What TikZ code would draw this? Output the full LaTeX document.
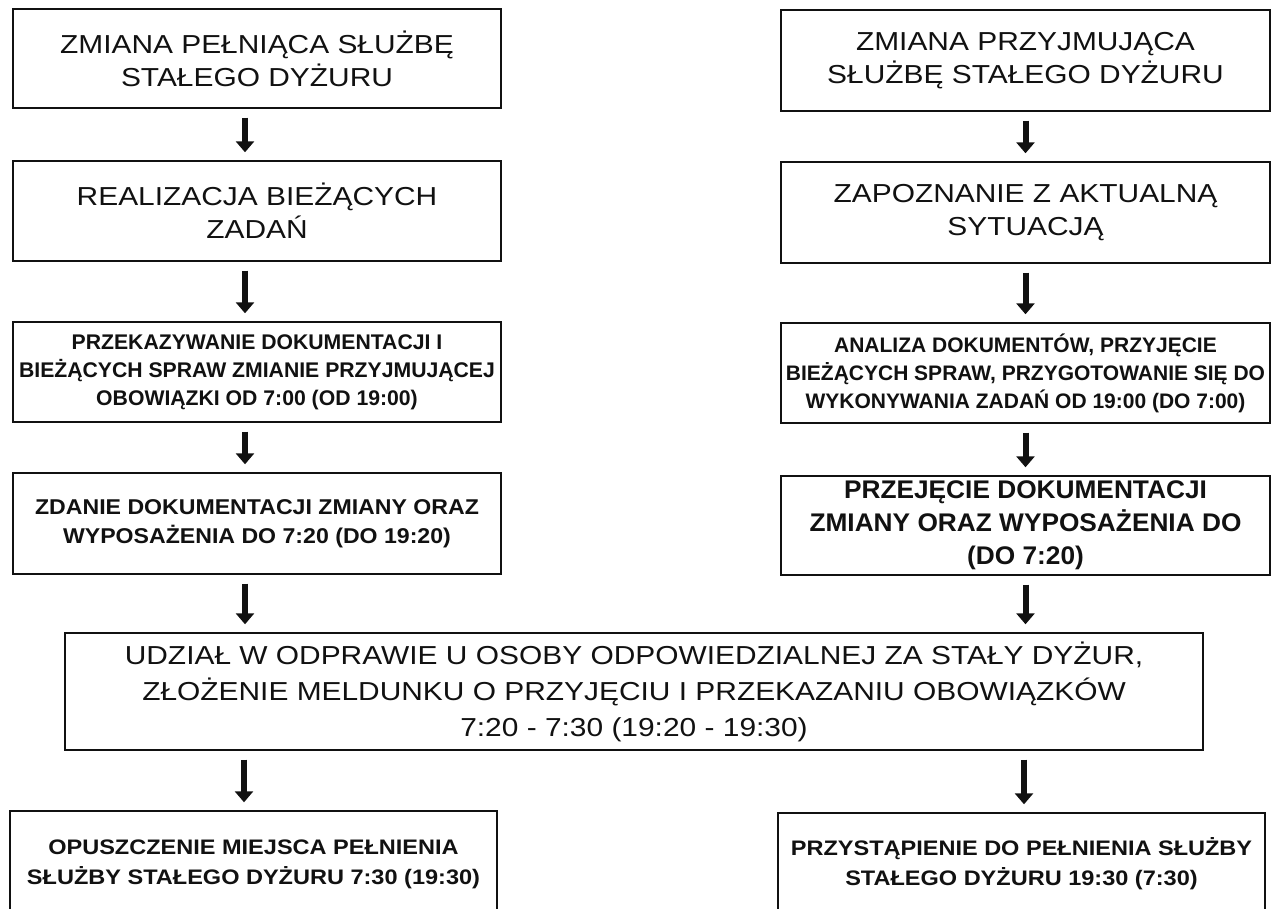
\documentclass[tikz,border=0pt]{standalone}
\usepackage{fontspec}
\usepackage{tikz}
\usetikzlibrary{arrows.meta}
\newfontfamily\widesans[FakeStretch=1.15]{Liberation Sans}
\newfontfamily\plainbold[FakeStretch=1.0]{Liberation Sans}
\newfontfamily\widebold[FakeStretch=1.08]{Liberation Sans}
\newfontfamily\widerbold[FakeStretch=1.12]{Liberation Sans}
\newfontfamily\bigbold[FakeStretch=1.03]{Liberation Sans}
\definecolor{ink}{HTML}{111111}
\tikzset{
  box/.style={draw=ink, line width=1.4pt, inner sep=0pt, align=center, text=ink},
  colL/.style={box, minimum width=488pt, minimum height=100pt},
  colR/.style={box, minimum width=489pt, minimum height=100pt},
  bigtxt/.style={font=\widesans\fontsize{26}{33}\selectfont},
  midtxt/.style={font=\widesans\fontsize{26}{36}\selectfont},
  smalltxt/.style={font=\plainbold\bfseries\fontsize{21.2}{28}\selectfont},
  donetxt/.style={font=\widebold\bfseries\fontsize{21.4}{29}\selectfont},
  taketxt/.style={font=\bigbold\bfseries\fontsize{25.5}{33}\selectfont},
  endtxt/.style={font=\widerbold\bfseries\fontsize{21}{30}\selectfont},
  arr/.style={draw=ink, line width=6pt, -{Triangle[width=18pt,length=11pt]},
    shorten <=9pt, shorten >=8pt},
}
\begin{document}
\begin{tikzpicture}[x=1pt,y=-1pt]
  \clip (0,0) rectangle (1277,908);
  \fill[white] (0,0) rectangle (1277,908);

  % left column
  \node[colL,bigtxt,minimum height=99pt] (L1) at (257,58.5)
    {ZMIANA PEŁNIĄCA SŁUŻBĘ\\STAŁEGO DYŻURU};
  \node[colL,bigtxt] (L2) at (257,211)
    {REALIZACJA BIEŻĄCYCH\\ZADAŃ};
  \node[colL,smalltxt] (L3) at (257,372)
    {PRZEKAZYWANIE DOKUMENTACJI I\\BIEŻĄCYCH SPRAW ZMIANIE PRZYJMUJĄCEJ\\OBOWIĄZKI OD 7:00 (OD 19:00)};
  \node[colL,donetxt,minimum height=101pt] (L4) at (257,523.5)
    {ZDANIE DOKUMENTACJI ZMIANY ORAZ\\WYPOSAŻENIA DO 7:20 (DO 19:20)};

  % right column
  \node[colR,bigtxt,minimum height=101pt] (R1) at (1025.5,60.5)
    {ZMIANA PRZYJMUJĄCA\\SŁUŻBĘ STAŁEGO DYŻURU};
  \node[colR,bigtxt,minimum height=101pt] (R2) at (1025.5,212.5)
    {ZAPOZNANIE Z AKTUALNĄ\\SYTUACJĄ};
  \node[colR,smalltxt,font=\plainbold\bfseries\fontsize{21}{28}\selectfont] (R3) at (1025.5,373)
    {ANALIZA DOKUMENTÓW, PRZYJĘCIE\\BIEŻĄCYCH SPRAW, PRZYGOTOWANIE SIĘ DO\\WYKONYWANIA ZADAŃ OD 19:00 (DO 7:00)};
  \node[colR,taketxt,minimum height=99pt] (R4) at (1025.5,525.5)
    {PRZEJĘCIE DOKUMENTACJI\\ZMIANY ORAZ WYPOSAŻENIA DO\\(DO 7:20)};

  % briefing
  \node[box,midtxt,minimum width=1138pt,minimum height=117pt] (M) at (634,691.5)
    {UDZIAŁ W ODPRAWIE U OSOBY ODPOWIEDZIALNEJ ZA STAŁY DYŻUR,\\ZŁOŻENIE MELDUNKU O PRZYJĘCIU I PRZEKAZANIU OBOWIĄZKÓW\\7:20 - 7:30 (19:20 - 19:30)};

  % end of shift
  \node[box,endtxt,minimum width=487pt,minimum height=107pt] (L5) at (253.5,864.5)
    {OPUSZCZENIE MIEJSCA PEŁNIENIA\\SŁUŻBY STAŁEGO DYŻURU 7:30 (19:30)};
  \node[box,endtxt,minimum width=487pt,minimum height=101pt] (R5) at (1021.5,863.5)
    {PRZYSTĄPIENIE DO PEŁNIENIA SŁUŻBY\\STAŁEGO DYŻURU 19:30 (7:30)};

  \draw[arr] ([xshift=-12pt]L1.south) -- ([xshift=-12pt]L2.north);
  \draw[arr] ([xshift=-12pt]L2.south) -- ([xshift=-12pt]L3.north);
  \draw[arr] ([xshift=-12pt]L3.south) -- ([xshift=-12pt]L4.north);
  \draw[arr] ([xshift=-12pt]L4.south) -- ([xshift=-12pt]L4.south |- M.north);
  \draw[arr] (R1) -- (R2);
  \draw[arr] (R2) -- (R3);
  \draw[arr] (R3) -- (R4);
  \draw[arr] (R4.south) -- (R4.south |- M.north);
  \draw[arr] ([xshift=-9.5pt]L5.north |- M.south) -- ([xshift=-9.5pt]L5.north);
  \draw[arr] ([xshift=2.5pt]R5.north |- M.south) -- ([xshift=2.5pt]R5.north);
\end{tikzpicture}
\end{document}
